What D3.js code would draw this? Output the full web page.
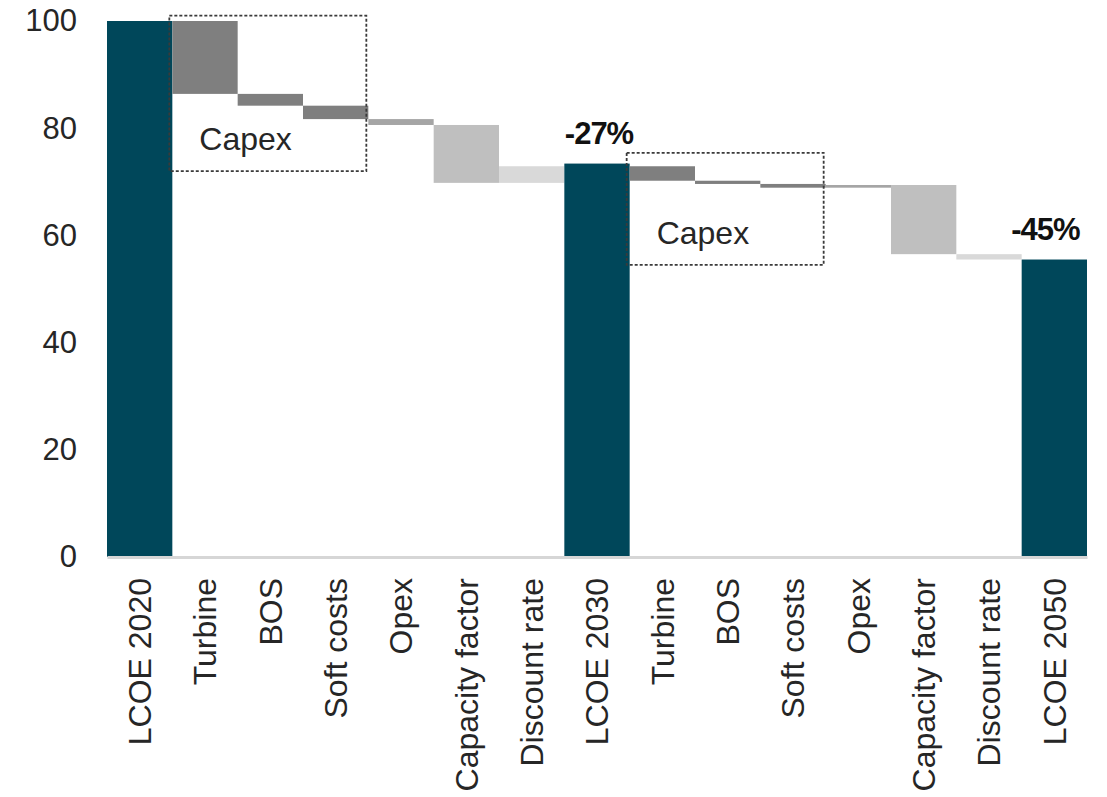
<!DOCTYPE html>
<html>
<head>
<meta charset="utf-8">
<script src="https://cdn.jsdelivr.net/npm/d3@7"></script>
<style>
  body { margin: 0; background: #fff; }
  text { font-family: "Liberation Sans", Arial, sans-serif; }
</style>
</head>
<body>
<div id="chart"></div>
<script>
// LCOE waterfall, indexed to 2020 = 100
const categories = ["LCOE 2020", "Turbine", "BOS", "Soft costs", "Opex", "Capacity factor", "Discount rate",
  "LCOE 2030", "Turbine", "BOS", "Soft costs", "Opex", "Capacity factor", "Discount rate", "LCOE 2050"];
// totals are absolute, the other entries are changes
const values = [100, -13.6, -2.2, -2.5, -1.1, -10.8, 3.1, 73.4, -2.7, -0.6, -0.7, 0.5, -12.9, -1.0, 55.5];
const isTotal = [true, false, false, false, false, false, false, true, false, false, false, false, false, false, true];
const yTicks = [0, 20, 40, 60, 80, 100];
const changeLabels = [{index: 7, text: "-27%"}, {index: 14, text: "-45%"}];
const capexGroups = [{first: 1, last: 3, top: 101, bottom: 72}, {first: 8, last: 10, top: 75.4, bottom: 54.5}];

const colorOf = {
  "LCOE": "#00475a",
  "Turbine": "#7f7f7f",
  "BOS": "#7f7f7f",
  "Soft costs": "#7f7f7f",
  "Opex": "#a5a5a5",
  "Capacity factor": "#bfbfbf",
  "Discount rate": "#d9d9d9"
};

const width = 1107, height = 797;
const margin = {left: 107, right: 1087, top: 21, bottom: 557};

const svg = d3.select("#chart").append("svg")
  .attr("width", width)
  .attr("height", height);

const x = d3.scaleBand().domain(d3.range(categories.length)).range([margin.left, margin.right]).padding(0);
const y = d3.scaleLinear().domain([0, 100]).range([margin.bottom, margin.top]);

// build floating bars
let running = values[0];
const bars = categories.map((name, i) => {
  if (isTotal[i]) {
    if (i === 0) running = values[i];
    return {i, name, from: 0, to: values[i], color: colorOf.LCOE};
  }
  const from = running;
  running += values[i];
  return {i, name, from, to: running, color: colorOf[name]};
});

svg.append("g")
  .selectAll("rect")
  .data(bars)
  .enter().append("rect")
  .attr("x", d => x(d.i))
  .attr("width", x.bandwidth())
  .attr("y", d => y(Math.max(d.from, d.to)))
  .attr("height", d => Math.abs(y(d.from) - y(d.to)))
  .attr("fill", d => d.color);

// y axis (labels only)
const yAxis = svg.append("g")
  .attr("transform", `translate(${margin.left},0)`)
  .call(d3.axisLeft(y).tickValues(yTicks).tickSize(0).tickPadding(30));
yAxis.select(".domain").remove();
yAxis.selectAll("text")
  .style("font-size", "31px")
  .style("font-family", "'Liberation Sans', Arial, sans-serif")
  .attr("fill", "#262626");

// x axis with rotated labels
const xAxis = svg.append("g")
  .attr("transform", `translate(0,${margin.bottom})`)
  .call(d3.axisBottom(x).tickFormat(i => categories[i]).tickSize(0).tickSizeOuter(0));
xAxis.select(".domain")
  .attr("stroke", "#d6d6d6")
  .attr("stroke-width", 3);
xAxis.selectAll("text")
  .attr("transform", "rotate(-90)")
  .attr("text-anchor", "end")
  .attr("x", -21)
  .attr("y", 0)
  .attr("dy", "0.35em")
  .style("font-size", "32px")
  .style("font-family", "'Liberation Sans', Arial, sans-serif")
  .attr("fill", "#262626");

// capex boxes
capexGroups.forEach(g => {
  const x0 = x(g.first) - 3;
  const x1 = x(g.last) + x.bandwidth() - 2;
  svg.append("rect")
    .attr("x", x0)
    .attr("y", y(g.top))
    .attr("width", x1 - x0)
    .attr("height", y(g.bottom) - y(g.top))
    .attr("fill", "none")
    .attr("stroke", "#3a3a3a")
    .attr("stroke-width", 1.8)
    .attr("stroke-dasharray", "3,2");
  svg.append("text")
    .attr("x", x0 + 30)
    .attr("y", y(g.bottom) - 21)
    .attr("fill", "#262626")
    .style("font-size", "32px")
    .text("Capex");
});

// change labels above totals
const labelShift = {7: 2, 14: -9};
changeLabels.forEach(l => {
  svg.append("text")
    .attr("x", x(l.index) + x.bandwidth() / 2 + labelShift[l.index])
    .attr("y", y(values[l.index]) - 20)
    .attr("text-anchor", "middle")
    .attr("font-weight", "bold")
    .attr("fill", "#111")
    .style("font-size", "31px")
    .style("letter-spacing", "-1px")
    .text(l.text);
});
</script>
</body>
</html>
